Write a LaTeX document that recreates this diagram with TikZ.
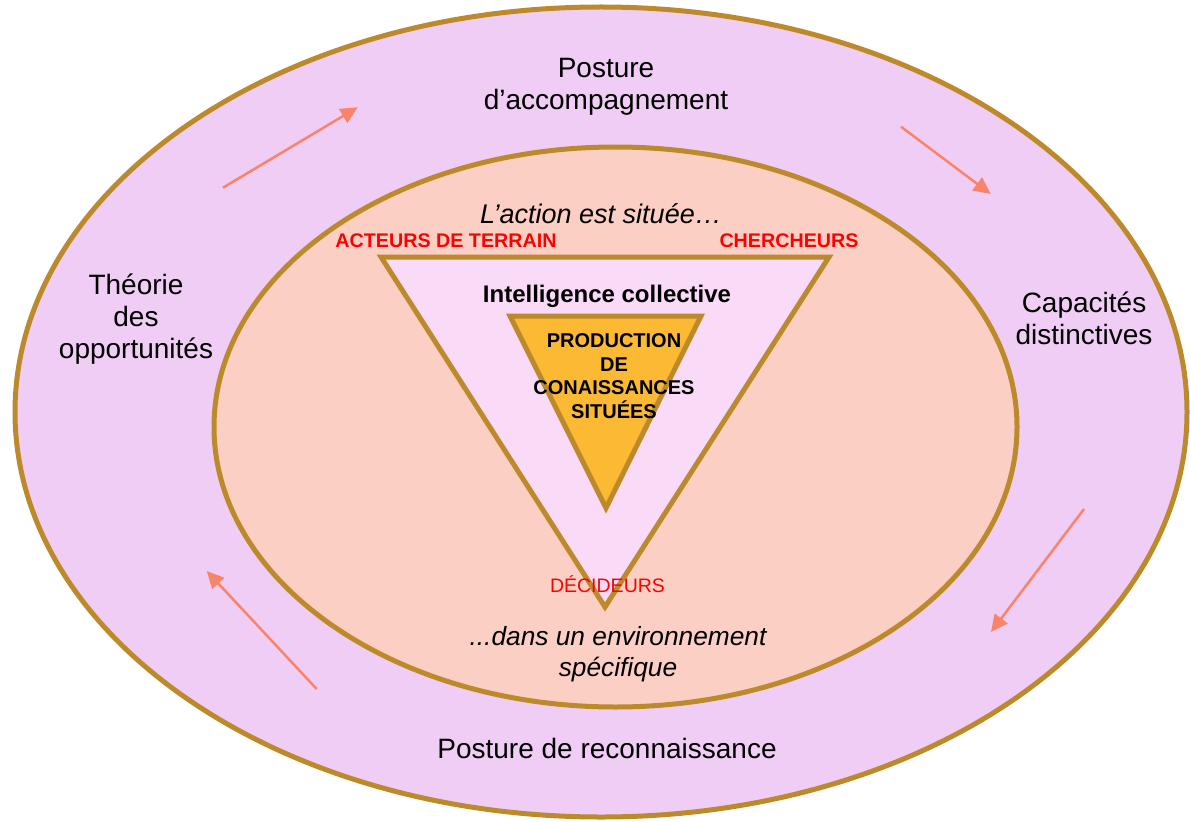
\documentclass[tikz,border=0pt]{standalone}
\usepackage{fontspec}
\setmainfont{Liberation Sans}
\usetikzlibrary{arrows.meta}
\definecolor{outerfill}{HTML}{F0CDF4}
\definecolor{innerfill}{HTML}{FCCFC4}
\definecolor{trifill}{HTML}{F9DAF7}
\definecolor{corefill}{HTML}{FBB934}
\definecolor{goldline}{HTML}{BC8A2A}
\definecolor{arrowcol}{HTML}{F9846A}
\definecolor{redtxt}{HTML}{FF0000}
\tikzset{
  ring/.style={draw=goldline, line width=5pt},
  flow/.style={draw=arrowcol, line width=2.5pt, -{Triangle[length=17pt,width=16pt]}},
  bigtxt/.style={align=center, inner sep=0pt, font=\fontsize{28}{32}\selectfont},
  itxt/.style={align=center, inner sep=0pt, font=\fontsize{26.3}{31}\selectfont\itshape},
  redlbl/.style={inner sep=0pt, text=redtxt, font=\fontsize{19.7}{22}\selectfont\bfseries},
  coretxt/.style={align=center, inner sep=0pt, font=\fontsize{20}{23.7}\selectfont\bfseries},
}
\begin{document}
\begin{tikzpicture}[x=1pt,y=-1pt]
\useasboundingbox (0,0) rectangle (1190,821);
\fill[white] (0,0) rectangle (1190,821);
% outer ring
\draw[ring, fill=outerfill] (601,412) ellipse [x radius=586, y radius=405];
% inner ellipse
\draw[ring, fill=innerfill] (615.5,427) ellipse [x radius=401.5, y radius=280];
% big triangle
\draw[ring, fill=trifill, line join=miter] (381,257) -- (829,257) -- (605,607) -- cycle;
% core triangle
\draw[ring, fill=corefill, line join=miter] (510,316) -- (701,316) -- (606,508) -- cycle;

% arrows
\coordinate (a1s) at (223,187.7);  \coordinate (a1e) at (357.7,107.3);
\coordinate (a2s) at (901,126.7);  \coordinate (a2e) at (990.7,194);
\coordinate (a3s) at (1084,509);   \coordinate (a3e) at (991,632);
\coordinate (a4s) at (316.7,689);  \coordinate (a4e) at (206.7,571);
\draw[flow] (a1s) -- (a1e);
\draw[flow] (a2s) -- (a2e);
\draw[flow] (a3s) -- (a3e);
\draw[flow] (a4s) -- (a4e);

% outer labels
\node[bigtxt] (accomp) at (606,87) {Posture\\d’accompagnement};
\node[bigtxt] (theorie) at (136,319) {Théorie\\des\\opportunités};
\node[bigtxt] (capac) at (1084,318) {Capacités\\distinctives};
\node[bigtxt] (recon) at (607,748) {Posture de reconnaissance};

% inner labels
\node[itxt, font=\fontsize{27}{31}\selectfont\itshape] (action) at (601,214) {L’action est située…};
\node[itxt] (envir) at (618,654) {...dans un environnement\\spécifique};
\node[redlbl] (acteurs) at (446,241) {ACTEURS DE TERRAIN};
\node[redlbl] (cherch) at (789,241) {CHERCHEURS};
\node[inner sep=0pt, text=redtxt, font=\fontsize{19.5}{22}\selectfont] (decid) at (607.5,584) {DÉCIDEURS};
\node[inner sep=0pt, font=\fontsize{24}{28}\selectfont\bfseries] (intel) at (607,296) {Intelligence collective};
\node[coretxt] (prod) at (614,376) {PRODUCTION\\DE\\CONAISSANCES\\SITUÉES};
\end{tikzpicture}
\end{document}
